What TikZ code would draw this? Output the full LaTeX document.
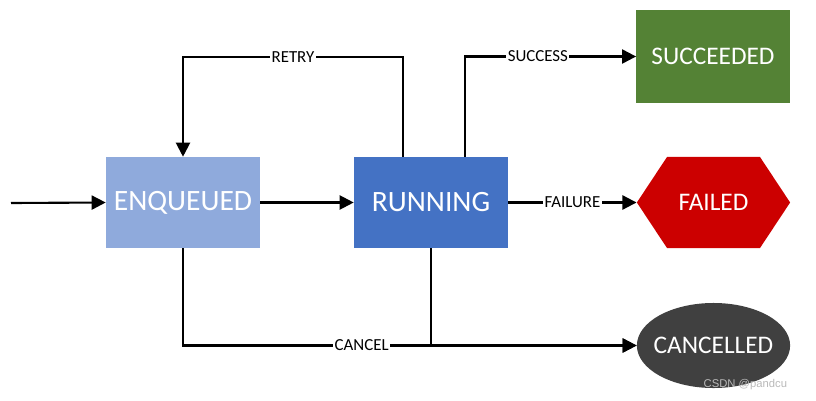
\documentclass[tikz,border=0pt]{standalone}
\usepackage{fontspec}
\setmainfont{Carlito}
\newfontfamily\markFont{Liberation Sans}
\usetikzlibrary{positioning,arrows.meta,shapes.geometric,shapes.symbols}
\definecolor{enqueuedColor}{RGB}{143,170,220}
\definecolor{runningColor}{RGB}{68,114,196}
\definecolor{succeededColor}{RGB}{84,130,53}
\definecolor{failedColor}{RGB}{204,0,0}
\definecolor{cancelledColor}{RGB}{64,64,64}
\tikzstyle{stateBox} = [rectangle, minimum width = 3.85cm, minimum height = 2.275cm, text = white, font = \fontsize{21}{24}\selectfont]
\tikzstyle{endState} = [minimum width = 3.83cm, text = white, font = \fontsize{18}{21}\selectfont]
\tikzstyle{flowArrow} = [line width = 1.5pt, -{Triangle[length = 10pt, width = 10pt]}]
\tikzstyle{flowLabel} = [fill = white, inner sep = 1pt, font = \fontsize{12}{14}\selectfont]

\begin{document}
\begin{tikzpicture}[x = 0.025cm, y = -0.025cm]
  \useasboundingbox (0,0) rectangle (816,401);

  \node [stateBox, fill = enqueuedColor] (enqueued) at (183,202.5) {ENQUEUED};
  \node [stateBox, fill = runningColor] (running) at (431,202.5) {RUNNING};
  \node [endState, rectangle, fill = succeededColor, minimum height = 2.3cm] (succeeded) at (713,56.5) {SUCCEEDED};
  \node [endState, signal, signal to = west and east, signal pointer angle = 113, fill = failedColor, minimum height = 2.275cm] (failed) at (713.5,202.5) {FAILED};
  \node [endState, ellipse, inner sep = 0pt, fill = cancelledColor, minimum height = 2.125cm,
         label = {[text = white, font = \fontsize{18}{21}\selectfont]center:CANCELLED}] (cancelled) at (713.5,345.5) {};

  \coordinate (entry) at (11,203);
  \draw [flowArrow] (entry) -- (enqueued.west);
  \draw [flowArrow] (enqueued.east) -- (running.west);

  % retry goes back over the top
  \draw [flowArrow] ([xshift = -0.7cm]running.north) -- ++(0,-100) -| node [flowLabel, pos = 0.25] {RETRY} (enqueued.north);
  \draw [flowArrow] ([xshift = 0.85cm]running.north) |- node [flowLabel, pos = 0.713] {SUCCESS} (succeeded.west);
  \draw [flowArrow] (running.east) -- node [flowLabel] {FAILURE} (failed.west);

  % both states can be cancelled
  \draw [flowArrow] (enqueued.south) |- node [flowLabel, pos = 0.697] {CANCEL} (cancelled.west);
  \draw [flowArrow] (running.south) |- (cancelled.west);

  \node [text = gray!55, font = \markFont\fontsize{8}{9}\selectfont, anchor = east] (watermark) at (792,385) {CSDN @pandcu};
\end{tikzpicture}
\end{document}
